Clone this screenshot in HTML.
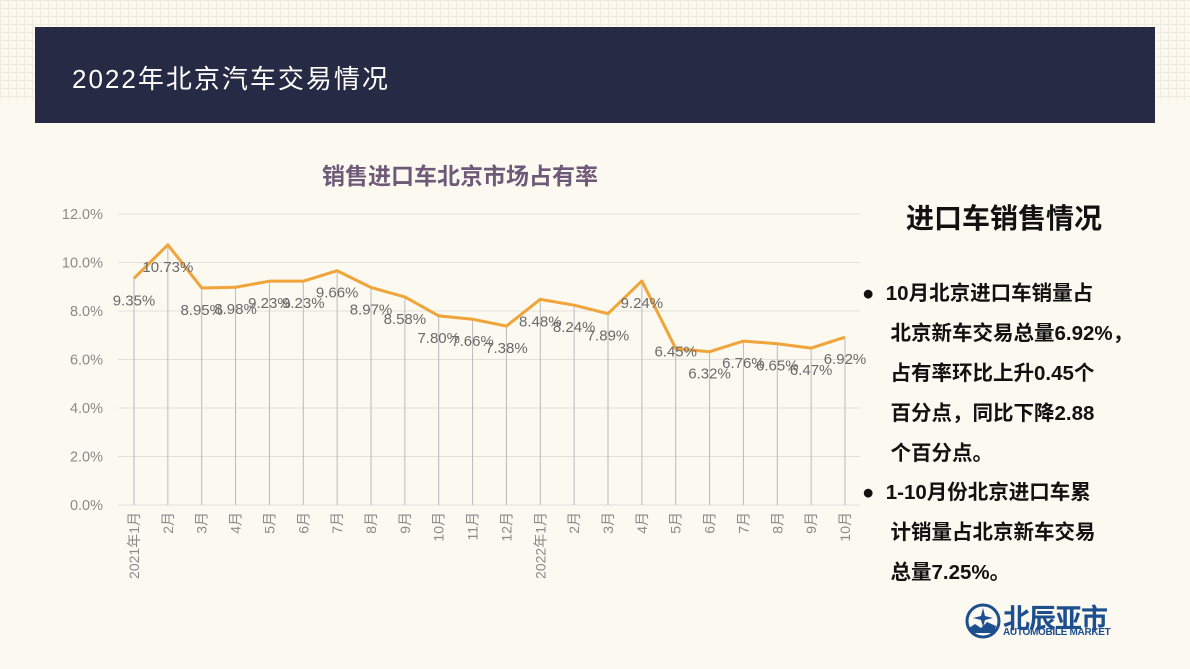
<!DOCTYPE html>
<html><head><meta charset="utf-8"><style>
body{margin:0;width:1190px;height:669px;overflow:hidden;background:#fcf9f1;font-family:"Liberation Sans","Noto Sans CJK SC",sans-serif;position:relative}
.grid{position:absolute;left:0;top:0;width:1190px;height:100px;background-image:linear-gradient(#ece6d8 1px,transparent 1px),linear-gradient(90deg,#ece6d8 1px,transparent 1px);background-size:8px 8px;opacity:.7}
.hdr{position:absolute;left:35px;top:27px;width:1120px;height:96px;background:#262a44}
.hdr span{position:absolute;left:37px;top:32px;color:#fff;font-size:26px;letter-spacing:2px}
.side{position:absolute;left:862px;color:#111;font-weight:bold}
</style></head><body>
<div class="grid"></div>
<div class="hdr"><span>2022年北京汽车交易情况</span></div>
<svg id="c" width="1190" height="669" style="position:absolute;left:0;top:0"></svg>
<div class="side" style="left:906px;top:197px;font-size:28px">进口车销售情况</div>
<div class="side" style="top:274px;font-size:20.5px;line-height:40px;width:320px;white-space:nowrap">●&nbsp;&nbsp;10月北京进口车销量占<br>&nbsp;&nbsp;&nbsp;&nbsp;&nbsp;北京新车交易总量6.92%，<br>&nbsp;&nbsp;&nbsp;&nbsp;&nbsp;占有率环比上升0.45个<br>&nbsp;&nbsp;&nbsp;&nbsp;&nbsp;百分点，同比下降2.88<br>&nbsp;&nbsp;&nbsp;&nbsp;&nbsp;个百分点。</div>
<div class="side" style="top:473px;font-size:20.5px;line-height:40px;width:320px;white-space:nowrap">●&nbsp;&nbsp;1-10月份北京进口车累<br>&nbsp;&nbsp;&nbsp;&nbsp;&nbsp;计销量占北京新车交易<br>&nbsp;&nbsp;&nbsp;&nbsp;&nbsp;总量7.25%。</div>
<div style="position:absolute;left:965px;top:603px">
<svg width="36" height="36" style="position:absolute;left:0;top:0"><circle cx="18" cy="18" r="16" fill="none" stroke="#1d4f8f" stroke-width="3"/><path d="M4 25 L10 21 L16 25 L22 19 L31 23 L29 30 L6 30Z" fill="#1d4f8f"/><path d="M18 5 L20 13 L28 15 L20 17 L18 24 L16 17 L8 15 L16 13Z" fill="#1d4f8f"/></svg>
<div style="position:absolute;left:38px;top:-6px;color:#1d4f8f;font-weight:bold;font-size:27px;white-space:nowrap;letter-spacing:-1px">北辰亚市</div>
<div style="position:absolute;left:38px;top:24px;color:#1d4f8f;font-weight:bold;font-size:10px;white-space:nowrap;letter-spacing:-0.3px">AUTOMOBILE MARKET</div>
</div>
<script>
const categories=["2021年1月","2月","3月","4月","5月","6月","7月","8月","9月","10月","11月","12月","2022年1月","2月","3月","4月","5月","6月","7月","8月","9月","10月"];
const values=[9.35,10.73,8.95,8.98,9.23,9.23,9.66,8.97,8.58,7.80,7.66,7.38,8.48,8.24,7.89,9.24,6.45,6.32,6.76,6.65,6.47,6.92];
const yTicks=[0,2,4,6,8,10,12];
const svg=document.getElementById('c');const NS='http://www.w3.org/2000/svg';
const x0=134,dx=(845-134)/(categories.length-1);
const X=i=>x0+i*dx, Y=v=>505-v*(505-214)/12;
function el(t,a,p){const e=document.createElementNS(NS,t);for(const k in a)e.setAttribute(k,a[k]);(p||svg).appendChild(e);return e;}
let t=el('text',{x:460,y:184,'text-anchor':'middle','font-size':23,'font-weight':'bold',fill:'#6e5a78'});t.textContent='销售进口车北京市场占有率';


yTicks.forEach(v=>{const l=el('line',{x1:118,x2:860,y1:Y(v),y2:Y(v),stroke:'#e3e0da','stroke-width':1});


const tx=el('text',{x:103,y:Y(v)+5,'text-anchor':'end','font-size':14.5,fill:'#8a8a8a'});tx.textContent=v.toFixed(1)+'%';

});
values.forEach((v,i)=>{const l=el('line',{x1:X(i),x2:X(i),y1:Y(v),y2:505,stroke:'#bdb8bd','stroke-width':1});


const tx=el('text',{transform:`translate(${X(i)+5},512) rotate(-90)`,'text-anchor':'end','font-size':14,fill:'#8a8a8a'});tx.textContent=categories[i];

});
const p=el('polyline',{points:values.map((v,i)=>X(i)+','+Y(v)).join(' '),fill:'none',stroke:'#f0a43a','stroke-width':3,'stroke-linejoin':'round'});


values.forEach((v,i)=>{const off=i==16?8:27;const tx=el('text',{x:X(i),y:Y(v)+off,'text-anchor':'middle','font-size':15,fill:'#6a6a6a'});tx.textContent=v.toFixed(2)+'%';

});
</script>
</body></html>
